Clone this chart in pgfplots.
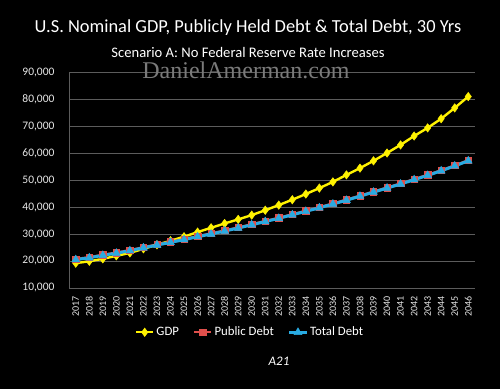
\documentclass[border=0pt]{standalone}
\usepackage{pgfplots}
\pgfplotsset{compat=1.18}
\usepackage{fontspec}
\setmainfont{Carlito}
\newfontfamily\wmfont{Liberation Serif}
\definecolor{gdpc}{HTML}{FFF200}
\definecolor{pubc}{HTML}{E0504C}
\definecolor{totc}{HTML}{29ABE2}
\definecolor{gridc}{HTML}{5C5C5C}
\definecolor{tickc}{HTML}{E6E6E6}
\definecolor{wmc}{HTML}{7A7A7A}
\begin{document}
\begin{tikzpicture}[x=1pt,y=1pt]
\fill[black] (0,0) rectangle (500,389);
\node[text=white,font=\fontsize{18.4}{22}\selectfont] at (248,361) {U.S. Nominal GDP, Publicly Held Debt \& Total Debt, 30 Yrs};
\node[text=white,font=\fontsize{14.6}{17}\selectfont] at (248,337) {Scenario A: No Federal Reserve Rate Increases};
\begin{axis}[
  at={(69pt,101pt)}, anchor=south west,
  scale only axis, width=406pt, height=216pt,
  xmin=2016.5, xmax=2046.5, ymin=10000, ymax=90000,
  xtick={2017,...,2046}, ytick={10000,20000,...,90000},
  scaled y ticks=false,
  axis x line=bottom, axis y line=left,
  axis line style={draw=gridc,line width=0.8pt,-},
  ymajorgrids, grid style={draw=gridc,line width=0.8pt},
  major tick length=0pt,
  /pgf/number format/assume math mode=true,
  yticklabel style={/pgf/number format/fixed,/pgf/number format/1000 sep={,},text=tickc,font=\fontsize{11.5}{13}\selectfont,xshift=-11pt},
  xticklabel style={/pgf/number format/1000 sep={},text=tickc,font=\fontsize{10}{11}\selectfont,rotate=90,anchor=east,xshift=-5pt},
  legend style={at={(0.446,-0.205)},anchor=center,draw=none,fill=none,text=white,font=\fontsize{12.8}{15}\selectfont,/tikz/every even column/.append style={column sep=12pt}},
  legend columns=3,
  legend cell align=left,
  clip=false,
]
\addplot[gdpc,line width=2.4pt,mark=diamond*,mark size=4.2pt,mark options={fill=gdpc,draw=gdpc,line width=0.5pt}] coordinates {
(2017,19200)(2018,19900)(2019,20800)(2020,21900)(2021,23000)(2022,24500)(2023,26000)(2024,27500)(2025,29000)(2026,30700)
(2027,32300)(2028,33900)(2029,35400)(2030,37000)(2031,38800)(2032,40700)(2033,42700)(2034,44800)(2035,47000)(2036,49300)
(2037,51900)(2038,54400)(2039,57100)(2040,60000)(2041,63000)(2042,66300)(2043,69300)(2044,72700)(2045,76700)(2046,80900)};
\addlegendentry{GDP}
\addplot[pubc,line width=2.4pt,mark=square*,mark size=3.2pt,mark options={fill=pubc,draw=pubc,line width=0.5pt}] coordinates {
(2017,20700)(2018,21400)(2019,22300)(2020,23100)(2021,24000)(2022,25100)(2023,26100)(2024,27100)(2025,28100)(2026,29200)
(2027,30200)(2028,31300)(2029,32400)(2030,33600)(2031,34800)(2032,36000)(2033,37300)(2034,38600)(2035,39900)(2036,41300)
(2037,42700)(2038,44200)(2039,45700)(2040,47200)(2041,48700)(2042,50300)(2043,51900)(2044,53600)(2045,55400)(2046,57300)};
\addlegendentry{Public Debt}
\addplot[totc,line width=3pt,mark=triangle*,mark size=4.5pt,mark options={fill=totc,draw=totc,line width=0.5pt}] coordinates {
(2017,20500)(2018,21200)(2019,22100)(2020,22900)(2021,23800)(2022,24900)(2023,25900)(2024,26900)(2025,27900)(2026,29000)
(2027,30000)(2028,31100)(2029,32200)(2030,33400)(2031,34600)(2032,35800)(2033,37100)(2034,38400)(2035,39700)(2036,41100)
(2037,42500)(2038,44000)(2039,45500)(2040,47000)(2041,48500)(2042,50100)(2043,51700)(2044,53400)(2045,55200)(2046,57100)};
\addlegendentry{Total Debt}
\end{axis}
\node[text=wmc,font=\wmfont\fontsize{24}{27}\selectfont] at (246,319) {DanielAmerman.com};
\node[text=white,font=\itshape\fontsize{13}{15}\selectfont] at (279,28) {A21};
\end{tikzpicture}
\end{document}
